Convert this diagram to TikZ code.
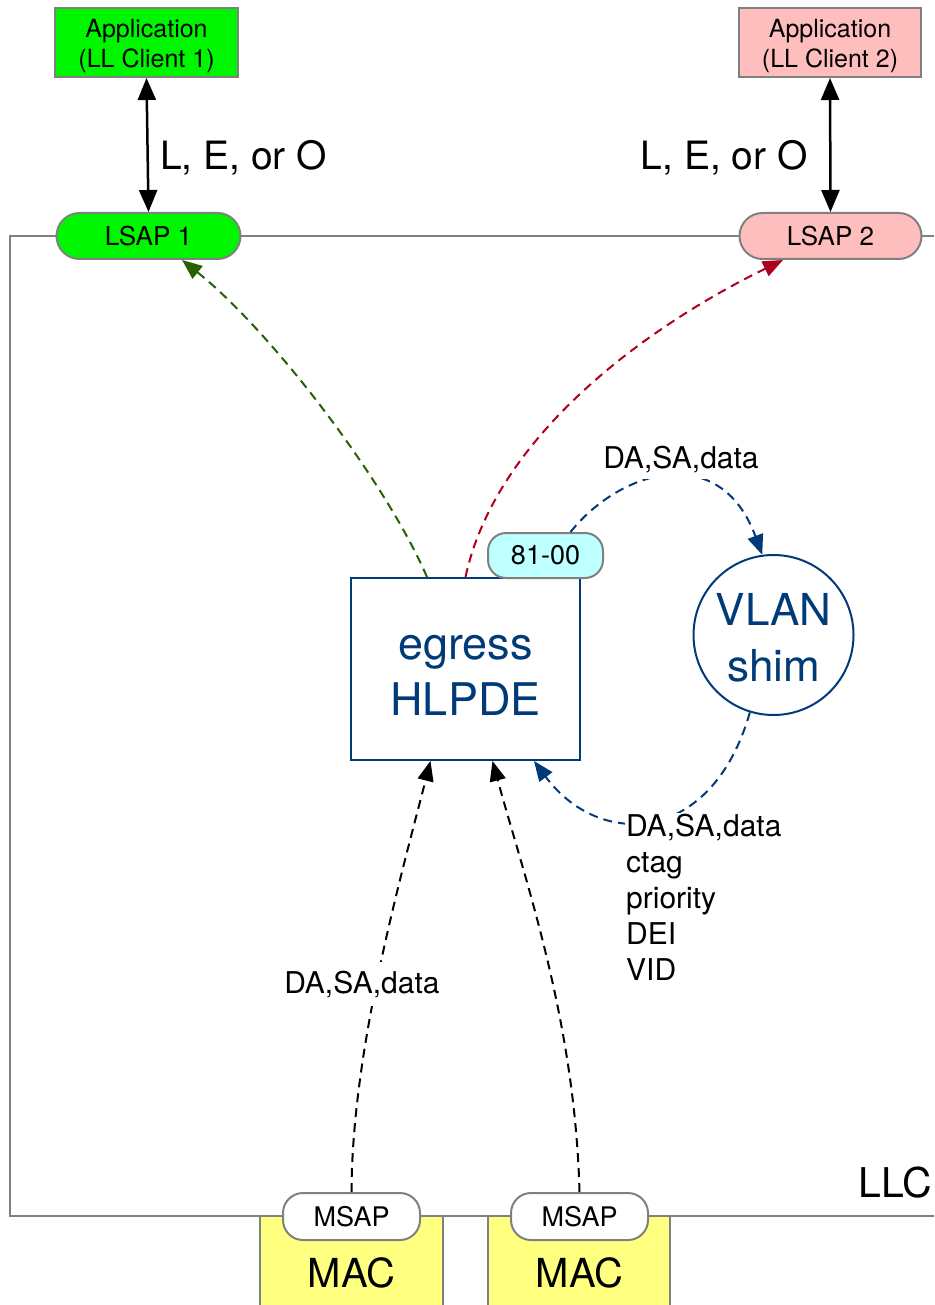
\documentclass[tikz,border=0pt]{standalone}
\usepackage{fontspec}
\setmainfont{TeX Gyre Heros}
\usetikzlibrary{arrows.meta,calc}

\definecolor{llcgray}{RGB}{128,128,128}
\definecolor{appgreen}{RGB}{0,245,0}
\definecolor{apppink}{RGB}{255,190,190}
\definecolor{macyellow}{RGB}{255,255,128}
\definecolor{tagcyan}{RGB}{190,255,255}
\definecolor{shimblue}{RGB}{0,58,120}
\definecolor{pathgreen}{RGB}{40,95,0}
\definecolor{pathred}{RGB}{175,0,30}

\newcommand\fsz[2]{\fontsize{#1}{#2}\selectfont}
% invisible strut that lowers the first line of a multi-line node
\newcommand\toplift[1]{\rule{0pt}{#1}}

\begin{document}
\begin{tikzpicture}[x=1pt,y=-1pt,
  frame/.style={draw=llcgray, line width=2pt},
  appbox/.style={draw=llcgray, line width=2pt, minimum width=183pt,
    minimum height=69pt, align=center, inner sep=0pt, font=\fsz{25}{30}},
  sapbox/.style={draw=llcgray, line width=2pt, rounded corners=23pt,
    minimum height=46pt, inner sep=0pt, font=\fsz{26}{30}},
  msapbox/.style={draw=llcgray, fill=white, line width=2pt, rounded corners=20pt,
    minimum width=137pt, minimum height=47pt, inner sep=0pt, font=\fsz{27}{30}},
  biglabel/.style={inner sep=0pt, font=\fsz{39}{44}},
  datalabel/.style={fill=white, inner xsep=2pt, inner ysep=7pt, font=\fsz{30}{36}},
  bothtips/.style={{Triangle[length=22pt,width=18pt]}-{Triangle[length=22pt,width=18pt]},
    line width=2.5pt},
  flow/.style={line width=2pt, dash pattern=on 9pt off 6pt,
    -{Triangle[length=20pt,width=16pt]}},
]
\useasboundingbox (0,0) rectangle (934,1305);

% MAC layers below the LLC boundary
\fill[macyellow] (260,1216) rectangle (443,1310);
\fill[macyellow] (488,1216) rectangle (670,1310);
\draw[frame] (260,1216) -- (260,1310) (443,1216) -- (443,1310);
\draw[frame] (488,1216) -- (488,1310) (670,1216) -- (670,1310);
\node[font=\fsz{40}{44}, anchor=base, inner sep=0pt] (mac1) at (351.5,1287) {MAC};
\node[font=\fsz{40}{44}, anchor=base, inner sep=0pt] (mac2) at (579.5,1287) {MAC};

% LLC boundary
\draw[frame] (934,236) -- (10,236) -- (10,1216) -- (934,1216);
\node[biglabel, font=\fsz{41}{44}, anchor=base east] (llc) at (932,1197) {LLC};

% clients and their service access points
\node[appbox, fill=appgreen] (app1) at (146.5,42.5) {\toplift{26pt}Application\\(LL Client 1)};
\node[appbox, fill=apppink, minimum width=182pt] (app2) at (830,42.5) {\toplift{26pt}Application\\(LL Client 2)};
\node[sapbox, fill=appgreen, minimum width=184pt] (lsap1) at (148.5,236) {LSAP 1};
\node[sapbox, fill=apppink, minimum width=182pt] (lsap2) at (830.5,236) {LSAP 2};

\draw[bothtips] (app1.south) -- (lsap1.north);
\draw[bothtips] (app2.south) -- (lsap2.north);
\node[biglabel, anchor=base west] (leo1) at (160,170) {L, E, or O};
\node[biglabel, anchor=base east] (leo2) at (808,170) {L, E, or O};

% MAC service access points
\node[msapbox] (msap1) at (351.5,1216.5) {MSAP};
\node[msapbox] (msap2) at (579.5,1216.5) {MSAP};

% egress HLPDE, its ethertype tag and the VLAN shim
\node[draw=shimblue, line width=2pt, minimum width=229pt, minimum height=182pt,
  text=shimblue, align=center, font=\fsz{45}{56}] (hlpde) at (465.5,669) {\toplift{37pt}egress\\HLPDE};
\node[draw=llcgray, fill=tagcyan, line width=2pt, rounded corners=18pt,
  minimum width=115pt, minimum height=45pt, inner sep=0pt, font=\fsz{27}{30}]
  (tag) at (545.5,555.5) {81-00};
\node[circle, draw=shimblue, line width=2pt, minimum size=160pt, inner sep=0pt,
  text=shimblue, align=center, font=\fsz{44}{56}] (vlan) at (773.5,635) {\toplift{37pt}VLAN\\shim};

% frames delivered up to the clients
\draw[flow, pathgreen] ([xshift=-38.5pt]hlpde.north)
  .. controls (385,480) and (270,330) .. ([xshift=33.5pt]lsap1.south);
\draw[flow, pathred] (hlpde.north)
  .. controls (495,440) and (640,330) .. ([xshift=-47.5pt]lsap2.south);

% tagged frames through the VLAN shim
\draw[flow, shimblue] ([xshift=25pt]tag.north)
  .. controls (620,470) and (720,440) .. (vlan.98);
\node[datalabel] (dtop) at (681,459) {DA,SA,data};
\draw[flow, shimblue] (vlan.253)
  .. controls (712,845) and (600,850) .. ([xshift=-47pt]hlpde.south east);
\node[datalabel, inner ysep=1pt, inner xsep=1pt, align=left, anchor=north west]
  (dshim) at (625,813) {DA,SA,data\\ctag\\priority\\DEI\\VID};

% frames received from the MACs
\draw[flow, black] (msap1.north)
  .. controls (352,1050) and (400,880) .. ([xshift=-35pt]hlpde.south);
\draw[flow, black] (msap2.north)
  .. controls (575,1020) and (525,880) .. ([xshift=27pt]hlpde.south);
\node[datalabel, inner ysep=9pt] (dmac) at (362,984) {DA,SA,data};
\end{tikzpicture}
\end{document}
